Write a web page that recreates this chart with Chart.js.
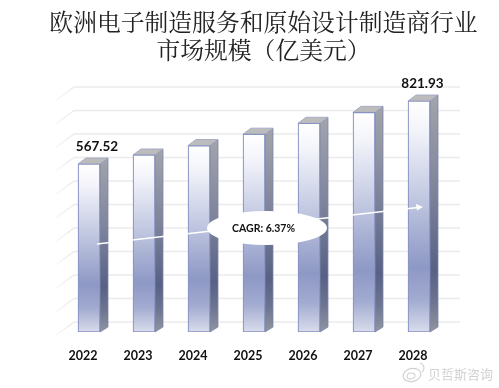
<!DOCTYPE html>
<html><head><meta charset="utf-8">
<style>html,body{margin:0;padding:0;background:#fff}canvas{display:block}</style>
<script src="https://cdn.jsdelivr.net/npm/chart.js@4"></script>
</head><body><canvas id="c" width="499" height="388"></canvas>
<script>
const categories=['2022','2023','2024','2025','2026','2027','2028'];
const values=[567.52,604,642,688,732,776,821.93];
const labelledBars=[0,6];
const valueRange=[-111,947];
const gridValues=[0,100,200,300,400,500,600,700,800,900,1000];
const gridRange=[-42.55,1072.3];
const trendValues=[244.5,394];
const titleLines=['欧洲电子制造服务和原始设计制造商行业','市场规模（亿美元）'];
const cagrLabel='CAGR: 6.37%';
const watermark='贝哲斯咨询';

function faceGrad(ctx,top,bot,stops){const g=ctx.createLinearGradient(0,top,0,bot);stops.forEach(s=>g.addColorStop(s[0],s[1]));return g;}
const frontStops=[[0,'#ffffff'],[0.12,'#f4f5fb'],[0.45,'#bcc3de'],[0.72,'#8d98c5'],[0.86,'#a2abd0'],[1,'#d9dcec']];
const sideStops=[[0,'#a3a4aa'],[0.4,'#7f849b'],[0.74,'#586184'],[0.88,'#6e7591'],[1,'#92969f']];

const deco={id:'deco',
 beforeDatasetsDraw(chart){
  const c=chart.ctx,g=chart.scales.grid,a=chart.chartArea;
  c.save();c.lineWidth=1.4;
  gridValues.forEach(v=>{
   const y=g.getPixelForValue(v),l=a.left+12.5,r=a.right+13.5;
   c.strokeStyle='#ebebeb';c.beginPath();c.moveTo(l,y);c.lineTo(r,y);c.stroke();
   const d=c.createLinearGradient(l,y,l-19,y+14);d.addColorStop(0,'#e9e9e9');d.addColorStop(1,'#f8f8f8');
   c.strokeStyle=d;c.beginPath();c.moveTo(l,y);c.lineTo(l-19,y+14);c.stroke();
  });
  const meta=chart.getDatasetMeta(0);
  meta.data.forEach(b=>{
   const l=b.x-b.width/2,r=b.x+b.width/2,t=b.y,bt=b.base,dx=8,dy=6;
   c.fillStyle=faceGrad(c,t-dy,bt,sideStops);c.strokeStyle='#7c86ac';c.lineWidth=0.8;
   c.beginPath();c.moveTo(r,t);c.lineTo(r+dx,t-dy);c.lineTo(r+dx,bt-dy+1);c.lineTo(r,bt);c.closePath();c.fill();c.stroke();
   c.fillStyle='#bcbcbc';c.strokeStyle='#9aa2c4';
   c.beginPath();c.moveTo(l,t);c.lineTo(l+dx,t-dy);c.lineTo(r+dx,t-dy);c.lineTo(r,t);c.closePath();c.fill();c.stroke();
  });
  c.restore();
 },
 afterDatasetsDraw(chart){
  const c=chart.ctx,x=chart.scales.x,y=chart.scales.y,meta=chart.getDatasetMeta(0);
  c.save();
  const x0=x.getPixelForValue(0)+8,x1=x.getPixelForValue(6)+4,y0=y.getPixelForValue(trendValues[0]),y1=y.getPixelForValue(trendValues[1]);
  c.strokeStyle='#fff';c.fillStyle='#fff';c.lineWidth=1.6;
  c.beginPath();c.moveTo(x0,y0);c.lineTo(x1-5,y1+0.6);c.stroke();
  c.beginPath();c.moveTo(x1,y1);c.lineTo(x1-7,y1-3);c.lineTo(x1-6,y1+3.6);c.closePath();c.fill();
  c.fillStyle='#fff';c.beginPath();c.ellipse(267,228,60,17,0,0,Math.PI*2);c.fill();
  c.fillStyle='#111';c.font='bold 10.5px Lato';c.textAlign='center';c.textBaseline='middle';
  c.fillText(cagrLabel,263.5,229);
  c.font='bold 13.5px Lato';
  labelledBars.forEach(i=>{const b=meta.data[i];c.fillText(values[i].toFixed(2),b.x+(i?3.5:8),b.y-17.5);});
  c.font='13px "Noto Sans CJK SC"';c.fillStyle='#d2d2d2';c.textAlign='left';
  c.fillText(watermark,428,374);
  c.strokeStyle='#cfcfcf';c.lineWidth=1.1;
  c.beginPath();c.ellipse(412,375,9,6.5,-0.2,0,Math.PI*2);c.stroke();
  c.beginPath();c.ellipse(411,376,4,3,-0.2,0,Math.PI*2);c.stroke();
  c.beginPath();c.arc(419,368,5,-1.4,0.9);c.stroke();
  c.restore();
 }};

new Chart(document.getElementById('c'),{
 type:'bar',
 data:{labels:categories,datasets:[{data:values,base:valueRange[0],barThickness:22,
  borderColor:'#8894c4',borderWidth:1.2,borderSkipped:false,
  backgroundColor(ctx){
   const ch=ctx.chart;if(!ch.chartArea||ctx.parsed==null)return '#aab';
   const s=ch.scales.y;
   return faceGrad(ch.ctx,s.getPixelForValue(ctx.parsed.y),s.getPixelForValue(valueRange[0]),frontStops);
  }}]},
 options:{responsive:false,animation:false,devicePixelRatio:1,
  layout:{padding:{left:49,right:21,top:0,bottom:0}},
  plugins:{legend:{display:false},tooltip:{enabled:false},
   title:{display:true,text:titleLines,color:'#222',
    font:{family:'"Noto Serif CJK SC","Noto Sans CJK SC"',size:23.8,weight:'normal',lineHeight:28/23.8},
    padding:{top:8,bottom:6}}},
  scales:{
   x:{grid:{display:false},border:{display:false},
    ticks:{color:'#111',font:{family:'Lato',size:12.5,weight:'bold'},labelOffset:-6,padding:8,maxRotation:0,autoSkip:false},
    afterFit(s){s.height=56;}},
   y:{position:'left',min:valueRange[0],max:valueRange[1],grid:{display:false},border:{display:false},
    ticks:{display:false},afterFit(s){s.width=12.5;}},
   grid:{position:'right',min:gridRange[0],max:gridRange[1],grid:{display:false},border:{display:false},
    ticks:{display:false},afterFit(s){s.width=31.5;}}
  }},
 plugins:[deco]
});
</script></body></html>
